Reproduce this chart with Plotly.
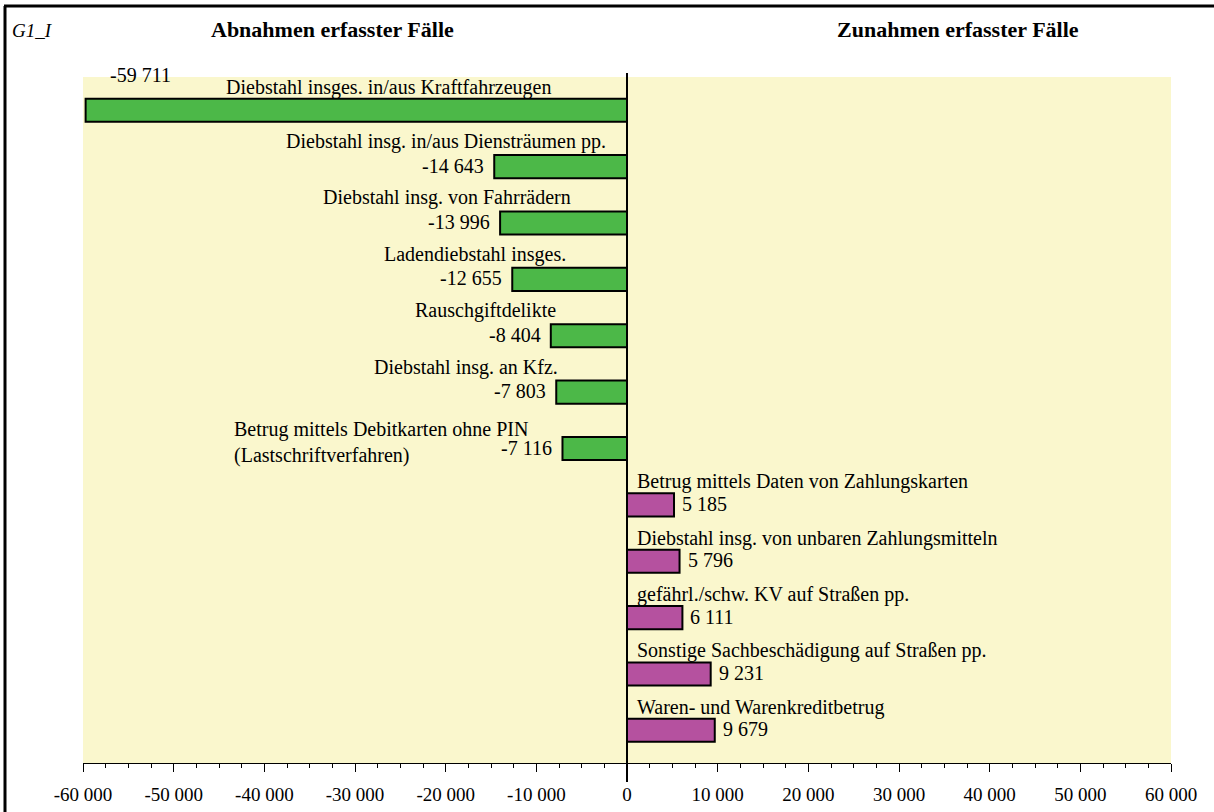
import plotly.graph_objects as go

# ---- data ----
categories = [
    "Diebstahl insges. in/aus Kraftfahrzeugen",
    "Diebstahl insg. in/aus Diensträumen pp.",
    "Diebstahl insg. von Fahrrädern",
    "Ladendiebstahl insges.",
    "Rauschgiftdelikte",
    "Diebstahl insg. an Kfz.",
    "Betrug mittels Debitkarten ohne PIN<br>(Lastschriftverfahren)",
    "Betrug mittels Daten von Zahlungskarten",
    "Diebstahl insg. von unbaren Zahlungsmitteln",
    "gefährl./schw. KV auf Straßen pp.",
    "Sonstige Sachbeschädigung auf Straßen pp.",
    "Waren- und Warenkreditbetrug",
]
values = [-59711, -14643, -13996, -12655, -8404, -7803, -7116,
          5185, 5796, 6111, 9231, 9679]
tick_vals = [-60000, -50000, -40000, -30000, -20000, -10000, 0,
             10000, 20000, 30000, 40000, 50000, 60000]
tick_text = ["-60 000", "-50 000", "-40 000", "-30 000", "-20 000", "-10 000", "0",
             "10 000", "20 000", "30 000", "40 000", "50 000", "60 000"]
title_left = "Abnahmen erfasster Fälle"
title_right = "Zunahmen erfasster Fälle"
chart_id = "G1_I"

# ---- style ----
GREEN = "#4CB848"
MAGENTA = "#B5519F"
BG = "#FAF7CD"
FONT = "Liberation Serif, Times New Roman, serif"
W, H = 1214, 812
L, R, T, B = 83, 43, 77, 49
pw, ph = W - L - R, H - T - B
LBL = 20

def fmt(v):
    s = f"{abs(v):,}".replace(",", " ")
    return ("-" + s) if v < 0 else s

colors = [GREEN if v < 0 else MAGENTA for v in values]

fig = go.Figure(go.Bar(
    x=values, y=categories, orientation="h",
    marker=dict(color=colors, line=dict(color="black", width=2)),
    width=0.41, hoverinfo="skip",
))

# label shifts (pixels) for the category names of the negative bars (right edge relative to zero line)
neg_label_dx = [None, -19, -54, -59, -69, -67, None]

ann = []
for i, (c, v) in enumerate(zip(categories, values)):
    if v < 0:
        if i == 0:
            ann.append(dict(x=v, y=c, text=fmt(v), xanchor="left", yanchor="middle",
                            xshift=22, yshift=35, showarrow=False))
            ann.append(dict(x=0, y=c, text=c, xanchor="center", yanchor="middle",
                            xshift=-239, yshift=23, showarrow=False))
        elif "<br>" in c:
            ann.append(dict(x=v, y=c, text=fmt(v), xanchor="right", yanchor="middle",
                            xshift=-8, yshift=0, showarrow=False))
            ann.append(dict(x=0, y=c, text=c, xanchor="left", yanchor="middle", align="left",
                            xshift=-395, yshift=6, showarrow=False))
        else:
            ann.append(dict(x=v, y=c, text=fmt(v), xanchor="right", yanchor="middle",
                            xshift=-8, yshift=1, showarrow=False))
            ann.append(dict(x=0, y=c, text=c, xanchor="right", yanchor="middle",
                            xshift=neg_label_dx[i], yshift=25, showarrow=False))
    else:
        ann.append(dict(x=v, y=c, text=fmt(v), xanchor="left", yanchor="middle",
                        xshift=6, yshift=1, showarrow=False))
        ann.append(dict(x=0, y=c, text=c, xanchor="left", yanchor="middle",
                        xshift=8, yshift=23, showarrow=False))

def px_x(p):
    return (p - L) / pw

def px_y(p):
    return (H - B - p) / ph

ann += [
    dict(xref="paper", yref="paper", x=px_x(10), y=px_y(31), text=f"<i>{chart_id}</i>",
         xanchor="left", yanchor="middle", showarrow=False, font=dict(size=19)),
    dict(xref="paper", yref="paper", x=px_x(332), y=px_y(30), text=f"<b>{title_left}</b>",
         xanchor="center", yanchor="middle", showarrow=False, font=dict(size=22)),
    dict(xref="paper", yref="paper", x=px_x(958), y=px_y(30), text=f"<b>{title_right}</b>",
         xanchor="center", yanchor="middle", showarrow=False, font=dict(size=22)),
]

shapes = [
    # zero line extending a bit above and below the plot area
    dict(type="line", xref="x", yref="paper", x0=0, x1=0, y0=px_y(782), y1=px_y(73),
         line=dict(color="black", width=2)),
    # figure frame (left and top)
    dict(type="line", xref="paper", yref="paper", x0=px_x(5), x1=px_x(5), y0=px_y(H + 5), y1=px_y(6),
         line=dict(color="black", width=3)),
    dict(type="line", xref="paper", yref="paper", x0=px_x(4), x1=px_x(W + 5), y0=px_y(6), y1=px_y(6),
         line=dict(color="black", width=3)),
]

fig.update_layout(
    width=W, height=H,
    margin=dict(l=L, r=R, t=T, b=B, pad=0, autoexpand=False),
    paper_bgcolor="white", plot_bgcolor=BG,
    font=dict(family=FONT, size=LBL, color="black"),
    showlegend=False,
    annotations=ann, shapes=shapes,
)
fig.update_xaxes(
    range=[-60000, 60000], tickmode="array", tickvals=tick_vals, ticktext=tick_text,
    showgrid=False, zeroline=False, showline=True, linecolor="black", linewidth=1,
    ticks="outside", ticklen=8, tickwidth=1, tickcolor="black",
    tickfont=dict(size=19, family=FONT), ticklabelstandoff=6, automargin=False,
    minor=dict(tickmode="linear", tick0=0, dtick=2500, ticks="outside", ticklen=4,
               tickcolor="black", showgrid=False),
    fixedrange=True,
)
fig.update_yaxes(
    categoryorder="array", categoryarray=categories, range=[11.58, -0.59],
    showticklabels=False, showgrid=False, zeroline=False, showline=False, ticks="",
    fixedrange=True, automargin=False,
)

fig.write_html(
    "out.html",
    config={"displayModeBar": False, "staticPlot": True},
    post_script="document.body.style.margin='0';document.body.style.overflow='hidden';",
)
